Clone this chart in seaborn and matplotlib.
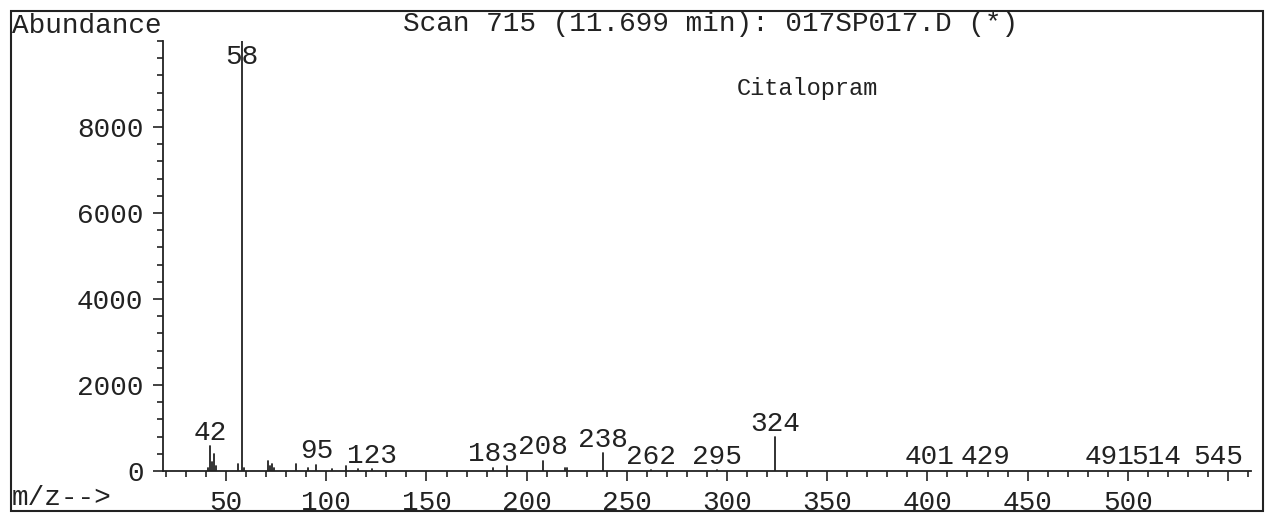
import numpy as np
import pandas as pd
import matplotlib
matplotlib.use("Agg")
import matplotlib.pyplot as plt
from matplotlib.patches import Rectangle
from matplotlib.ticker import MultipleLocator, FixedLocator, FuncFormatter
import seaborn as sns

# ---------------- data ----------------
mz = [41, 42, 43, 44, 45, 56, 58, 59, 71, 72, 73, 74, 85, 91, 95, 103, 110,
      116, 123, 183, 190, 208, 219, 220, 238, 262, 295, 324, 401, 429, 491,
      514, 545]
abundance = [60, 570, 200, 400, 120, 160, 10000, 80, 230, 120, 160, 60, 160,
             60, 150, 40, 120, 50, 40, 80, 110, 240, 80, 70, 410, 20, 20, 780,
             10, 10, 10, 10, 10]
labeled_mz = [42, 58, 95, 123, 183, 208, 238, 262, 295, 324, 401, 429, 491,
              514, 545]
base_peak = 58
x_major = [50, 100, 150, 200, 250, 300, 350, 400, 450, 500, 550]
x_labels = ["50", "100", "150", "200", "250", "300", "350", "400", "450",
            "500", ""]
y_major = [0, 2000, 4000, 6000, 8000]
title_text = "Scan 715 (11.699 min): 017SP017.D (*)"
compound_text = "Citalopram"
y_title = "Abundance"
x_title = "m/z-->"

# ---------------- style ----------------
sns.set_theme(style="ticks")
plt.rcParams["font.family"] = ["Liberation Mono", "DejaVu Sans Mono"]
INK = "#222222"
W, H = 1267, 514

fig = plt.figure(figsize=(W / 100, H / 100), dpi=100)
fig.patch.set_facecolor("white")

# axes placement (pixel geometry of the reference)
ax_l, ax_r, ax_t, ax_b = 163, 1251, 41, 471
ax = fig.add_axes([ax_l / W, 1 - ax_b / H, (ax_r - ax_l) / W, (ax_b - ax_t) / H])
ax.set_facecolor("white")

# long-form table: each peak is a vertical segment from 0 to its abundance
rows = []
for m, a in zip(mz, abundance):
    rows.append({"mz": m, "abund": 0.0, "peak": m})
    rows.append({"mz": m, "abund": float(a), "peak": m})
df = pd.DataFrame(rows)

sns.lineplot(data=df, x="mz", y="abund", units="peak", estimator=None,
             sort=False, color=INK, linewidth=1.3, ax=ax, legend=False)

ax.set_xlim(18.5, 561.5)
ax.set_ylim(0, 10000)
ax.set_xlabel("")
ax.set_ylabel("")

for s in ["top", "right"]:
    ax.spines[s].set_visible(False)
for s in ["left", "bottom"]:
    ax.spines[s].set_color(INK)
    ax.spines[s].set_linewidth(1.3)

ax.xaxis.set_major_locator(FixedLocator(x_major))
ax.xaxis.set_major_formatter(FuncFormatter(
    lambda v, p: x_labels[x_major.index(int(round(v)))] if int(round(v)) in x_major else ""))
ax.xaxis.set_minor_locator(MultipleLocator(10))
ax.yaxis.set_major_locator(FixedLocator(y_major))
ax.yaxis.set_minor_locator(MultipleLocator(400))

ax.tick_params(axis="both", which="both", direction="out", color=INK,
               labelcolor=INK, width=1.2, labelsize=20)
ax.tick_params(axis="x", which="major", length=7, pad=7)
ax.tick_params(axis="x", which="minor", length=4)
ax.tick_params(axis="y", which="major", length=7, pad=7)
ax.tick_params(axis="y", which="minor", length=4)

# peak labels
for m in labeled_mz:
    a = abundance[mz.index(m)]
    if m == base_peak:
        ax.annotate(str(m), xy=(m, ax.get_ylim()[1]), xytext=(0, -16.5),
                    textcoords="offset points", ha="center", va="baseline",
                    fontsize=20, color=INK)
    else:
        ax.annotate(str(m), xy=(m, a), xytext=(0, 4.5),
                    textcoords="offset points", ha="center", va="baseline",
                    fontsize=20, color=INK)

# figure-level texts
fig.text(403 / W, 1 - 31 / H, title_text, ha="left", va="baseline",
         fontsize=20, color=INK)
fig.text(12 / W, 1 - 33 / H, y_title, ha="left", va="baseline",
         fontsize=20, color=INK)
fig.text(12 / W, 1 - 505 / H, x_title, ha="left", va="baseline",
         fontsize=20, color=INK)
fig.text(737 / W, 1 - 95 / H, compound_text, ha="left", va="baseline",
         fontsize=17, color=INK)

# outer frame
fig.add_artist(Rectangle((11 / W, 1 - 511 / H), (1263 - 11) / W, (511 - 11) / H,
                         transform=fig.transFigure, fill=False,
                         edgecolor=INK, linewidth=1.5))

fig.savefig("out.png", dpi=100)
